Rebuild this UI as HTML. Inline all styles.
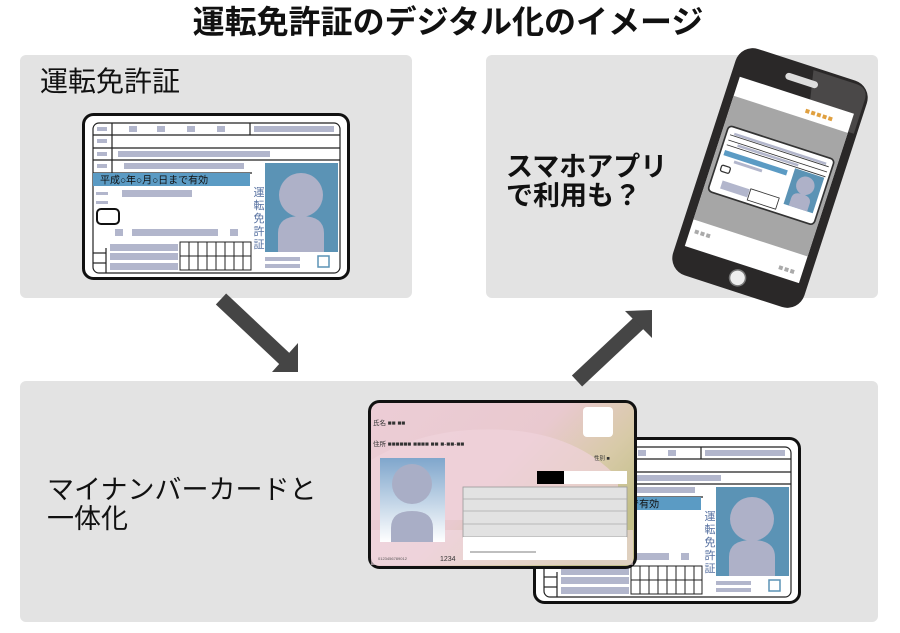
<!DOCTYPE html>
<html><head><meta charset="utf-8"><style>
html,body{margin:0;padding:0;background:#fff;}
svg{display:block;}
text{font-family:"Liberation Sans","Noto Sans CJK JP",sans-serif;}
</style></head><body>
<svg width="900" height="633" viewBox="0 0 900 633" xmlns="http://www.w3.org/2000/svg">
<defs>
<linearGradient id="mn" x1="0" y1="0" x2="1" y2="0.6">
<stop offset="0" stop-color="#eccdd6"/><stop offset="0.55" stop-color="#e9c9cf"/><stop offset="0.8" stop-color="#d8caa8"/><stop offset="1" stop-color="#c4c08a"/></linearGradient>
<linearGradient id="ph" x1="0" y1="0" x2="0" y2="1">
<stop offset="0" stop-color="#7fa6cc"/><stop offset="1" stop-color="#ffffff"/></linearGradient>
</defs>
<rect width="900" height="633" fill="#fff"/>
<text x="448" y="33" font-size="32" font-weight="bold" text-anchor="middle" fill="#111">運転免許証のデジタル化のイメージ</text>
<rect x="20" y="55" width="392" height="243" rx="6" fill="#e3e3e3"/>
<rect x="486" y="55" width="392" height="243" rx="6" fill="#e3e3e3"/>
<rect x="20" y="381" width="858" height="241" rx="6" fill="#e3e3e3"/>
<text x="40" y="91" font-size="28" fill="#111">運転免許証</text>
<text x="506" y="176" font-size="27" font-weight="bold" fill="#111">スマホアプリ</text>
<text x="506" y="205" font-size="27" font-weight="bold" fill="#111">で利用も？</text>
<text x="47" y="499" font-size="27" fill="#111">マイナンバーカードと</text>
<text x="47" y="528" font-size="27" fill="#111">一体化</text>

<line x1="221" y1="299" x2="288" y2="362" stroke="#454545" stroke-width="15"/>
<polygon points="272,372 298,372 298,343" fill="#454545"/>
<line x1="577" y1="381" x2="642" y2="320" stroke="#454545" stroke-width="15"/>
<polygon points="625,311 652,310 652,338" fill="#454545"/>

<g transform="translate(82,113)">
<rect x="1.5" y="1.5" width="265" height="164" rx="10" fill="#fff" stroke="#111" stroke-width="3"/>
<rect x="11" y="10" width="247" height="150" rx="6" fill="none" stroke="#222" stroke-width="1.2"/>
<g stroke="#222" stroke-width="1.2">
<line x1="11" y1="22" x2="258" y2="22"/><line x1="11" y1="35" x2="258" y2="35"/>
<line x1="11" y1="47" x2="258" y2="47"/><line x1="11" y1="60" x2="170" y2="60"/>
<line x1="30" y1="10" x2="30" y2="60"/><line x1="168" y1="10" x2="168" y2="22"/>
<line x1="24" y1="135" x2="24" y2="160"/><line x1="11" y1="140" x2="24" y2="140"/><line x1="11" y1="150" x2="24" y2="150"/>
</g>
<g fill="#b2b6cc">
<rect x="15" y="14" width="10" height="4"/><rect x="47" y="13" width="8" height="6"/><rect x="75" y="13" width="8" height="6"/><rect x="105" y="13" width="8" height="6"/><rect x="135" y="13" width="8" height="6"/>
<rect x="172" y="13" width="80" height="6"/>
<rect x="15" y="26" width="10" height="4"/><rect x="15" y="39" width="10" height="4"/><rect x="36" y="38" width="152" height="6"/>
<rect x="15" y="51" width="10" height="4"/><rect x="42" y="50" width="120" height="6"/>
<rect x="14" y="79" width="12" height="3"/><rect x="14" y="88" width="12" height="3"/><rect x="40" y="77" width="70" height="7"/>
<rect x="33" y="116" width="8" height="7"/><rect x="50" y="116" width="86" height="7"/><rect x="148" y="116" width="8" height="7"/>
<rect x="28" y="131" width="68" height="7"/><rect x="28" y="140" width="68" height="7"/><rect x="28" y="150" width="68" height="7"/>
<rect x="183" y="144" width="35" height="4"/><rect x="183" y="151" width="35" height="4"/>
</g>
<rect x="11" y="60" width="157" height="13" fill="#5b9bc4"/>
<text x="18" y="70.5" font-size="10" fill="#111">平成○年○月○日まで有効</text>
<rect x="183" y="50" width="73" height="89" fill="#5b93b5"/>
<circle cx="219" cy="82" r="22" fill="#aeb1c8"/>
<path d="M196,139 L196,120 Q196,103 219,103 Q242,103 242,120 L242,139 Z" fill="#aeb1c8"/>
<g font-size="11" fill="#5670a0" text-anchor="middle"><text x="177" y="83">運</text><text x="177" y="96">転</text><text x="177" y="109">免</text><text x="177" y="122">許</text><text x="177" y="135">証</text></g>
<rect x="15" y="96" width="22" height="15" rx="4" fill="#fff" stroke="#111" stroke-width="2"/>
<g stroke="#222" stroke-width="1" fill="none">
<rect x="98" y="129" width="71" height="28"/>
<line x1="98" y1="143" x2="169" y2="143"/>
<line x1="107" y1="129" x2="107" y2="157"/><line x1="116" y1="129" x2="116" y2="157"/><line x1="125" y1="129" x2="125" y2="157"/><line x1="134" y1="129" x2="134" y2="157"/><line x1="143" y1="129" x2="143" y2="157"/><line x1="152" y1="129" x2="152" y2="157"/><line x1="161" y1="129" x2="161" y2="157"/>
</g>
<rect x="236" y="143" width="11" height="11" fill="#fff" stroke="#5b93b5" stroke-width="1.5"/>
</g>

<g transform="translate(533,437)">
<rect x="1.5" y="1.5" width="265" height="164" rx="10" fill="#fff" stroke="#111" stroke-width="3"/>
<rect x="11" y="10" width="247" height="150" rx="6" fill="none" stroke="#222" stroke-width="1.2"/>
<g stroke="#222" stroke-width="1.2">
<line x1="11" y1="22" x2="258" y2="22"/><line x1="11" y1="35" x2="258" y2="35"/>
<line x1="11" y1="47" x2="258" y2="47"/><line x1="11" y1="60" x2="170" y2="60"/>
<line x1="168" y1="10" x2="168" y2="22"/>
<line x1="24" y1="135" x2="24" y2="160"/><line x1="11" y1="140" x2="24" y2="140"/><line x1="11" y1="150" x2="24" y2="150"/>
</g>
<g fill="#b2b6cc">
<rect x="105" y="13" width="8" height="6"/><rect x="135" y="13" width="8" height="6"/>
<rect x="172" y="13" width="80" height="6"/>
<rect x="36" y="38" width="152" height="6"/><rect x="42" y="50" width="120" height="6"/>
<rect x="50" y="116" width="86" height="7"/><rect x="148" y="116" width="8" height="7"/>
<rect x="28" y="131" width="68" height="7"/><rect x="28" y="140" width="68" height="7"/><rect x="28" y="150" width="68" height="7"/>
<rect x="183" y="144" width="35" height="4"/><rect x="183" y="151" width="35" height="4"/>
</g>
<rect x="11" y="60" width="157" height="13" fill="#5b9bc4"/>
<text x="18" y="70.5" font-size="10" fill="#111">平成○年○月○日まで有効</text>
<rect x="183" y="50" width="73" height="89" fill="#5b93b5"/>
<circle cx="219" cy="82" r="22" fill="#aeb1c8"/>
<path d="M196,139 L196,120 Q196,103 219,103 Q242,103 242,120 L242,139 Z" fill="#aeb1c8"/>
<g font-size="11" fill="#5670a0" text-anchor="middle"><text x="177" y="83">運</text><text x="177" y="96">転</text><text x="177" y="109">免</text><text x="177" y="122">許</text><text x="177" y="135">証</text></g>
<g stroke="#222" stroke-width="1" fill="none">
<rect x="98" y="129" width="71" height="28"/>
<line x1="98" y1="143" x2="169" y2="143"/>
<line x1="107" y1="129" x2="107" y2="157"/><line x1="116" y1="129" x2="116" y2="157"/><line x1="125" y1="129" x2="125" y2="157"/><line x1="134" y1="129" x2="134" y2="157"/><line x1="143" y1="129" x2="143" y2="157"/><line x1="152" y1="129" x2="152" y2="157"/><line x1="161" y1="129" x2="161" y2="157"/>
</g>
<rect x="236" y="143" width="11" height="11" fill="#fff" stroke="#5b93b5" stroke-width="1.5"/>
</g>

<g transform="translate(368,400)">
<rect x="1.5" y="1.5" width="266" height="166" rx="10" fill="url(#mn)" stroke="#111" stroke-width="3"/>
<path d="M3,60 Q60,25 140,30 Q210,35 250,78 L250,120 L3,120 Z" fill="#efd3dc" opacity="0.7"/>
<rect x="3" y="130" width="262" height="35" fill="#f2dbe3" opacity="0.6"/>
<rect x="215" y="7" width="30" height="30" rx="4" fill="#fff"/>
<text x="5" y="25" font-size="6.5" fill="#333">氏名 ■■ ■■</text>
<text x="5" y="46" font-size="6.5" fill="#333">住所 ■■■■■■ ■■■■ ■■ ■-■■-■■</text>
<text x="226" y="60" font-size="5.5" fill="#333">性別 ■</text>
<rect x="12" y="58" width="65" height="84" fill="url(#ph)"/>
<circle cx="44" cy="84" r="20" fill="#a9aec6"/>
<path d="M23,142 L23,128 Q23,111 44,111 Q65,111 65,128 L65,142 Z" fill="#a9aec6"/>
<rect x="169" y="71" width="27" height="13" fill="#000"/>
<rect x="196" y="71" width="63" height="13" fill="#fff"/>
<rect x="95" y="87" width="164" height="50" fill="#e2e2e2" stroke="#999" stroke-width="0.8"/>
<g stroke="#aaa" stroke-width="0.8"><line x1="95" y1="99" x2="259" y2="99"/><line x1="95" y1="111" x2="259" y2="111"/><line x1="95" y1="124" x2="259" y2="124"/></g>
<rect x="95" y="137" width="164" height="23" fill="#fff"/>
<line x1="102" y1="152" x2="168" y2="152" stroke="#555" stroke-width="0.8"/>
<text x="10" y="160" font-size="4" fill="#555">0123456789012</text>
<text x="72" y="161" font-size="7" fill="#333">1234</text>
</g>

<g transform="rotate(18 770 178)">
<rect x="701" y="59" width="138" height="238" rx="18" fill="#2a2828"/>
<path d="M778,62 L823,62 Q836,62 836,75 L836,110 L788,110 Z" fill="#4a4848"/>
<rect x="753" y="72" width="34" height="7" rx="3.5" fill="#ddd"/>
<rect x="710" y="91" width="120" height="178" fill="#fff"/>
<rect x="710" y="111" width="120" height="130" fill="#a6a6a6"/>
<g fill="#e0a040"><rect x="783" y="101" width="4" height="4"/><rect x="789" y="101" width="4" height="4"/><rect x="795" y="101" width="4" height="4"/><rect x="801" y="101" width="4" height="4"/><rect x="807" y="101" width="4" height="4"/></g>
<g fill="#aaa"><rect x="715" y="250" width="4" height="4"/><rect x="721" y="250" width="4" height="4"/><rect x="727" y="250" width="4" height="4"/><rect x="806" y="258" width="4" height="4"/><rect x="812" y="258" width="4" height="4"/><rect x="818" y="258" width="4" height="4"/></g>
<g transform="translate(714,140) scale(0.42)">
<rect x="1.5" y="1.5" width="265" height="164" rx="10" fill="#fff" stroke="#333" stroke-width="4"/>
<rect x="11" y="60" width="157" height="13" fill="#5b9bc4"/>
<g fill="#b2b6cc"><rect x="20" y="14" width="230" height="6"/><rect x="36" y="38" width="152" height="6"/><rect x="40" y="77" width="70" height="7"/><rect x="28" y="131" width="68" height="20"/></g>
<g stroke="#333" stroke-width="2"><line x1="11" y1="22" x2="258" y2="22"/><line x1="11" y1="35" x2="258" y2="35"/><line x1="11" y1="47" x2="258" y2="47"/></g>
<rect x="183" y="50" width="73" height="89" fill="#5b93b5"/>
<circle cx="219" cy="82" r="22" fill="#aeb1c8"/>
<path d="M196,139 L196,120 Q196,103 219,103 Q242,103 242,120 L242,139 Z" fill="#aeb1c8"/>
<rect x="98" y="129" width="71" height="28" fill="none" stroke="#333" stroke-width="2"/>
<rect x="15" y="96" width="22" height="15" rx="4" fill="#fff" stroke="#333" stroke-width="3"/>
</g>
<circle cx="770" cy="283" r="8" fill="#eee" stroke="#777" stroke-width="1.5"/>
</g>
</svg>
</body></html>
